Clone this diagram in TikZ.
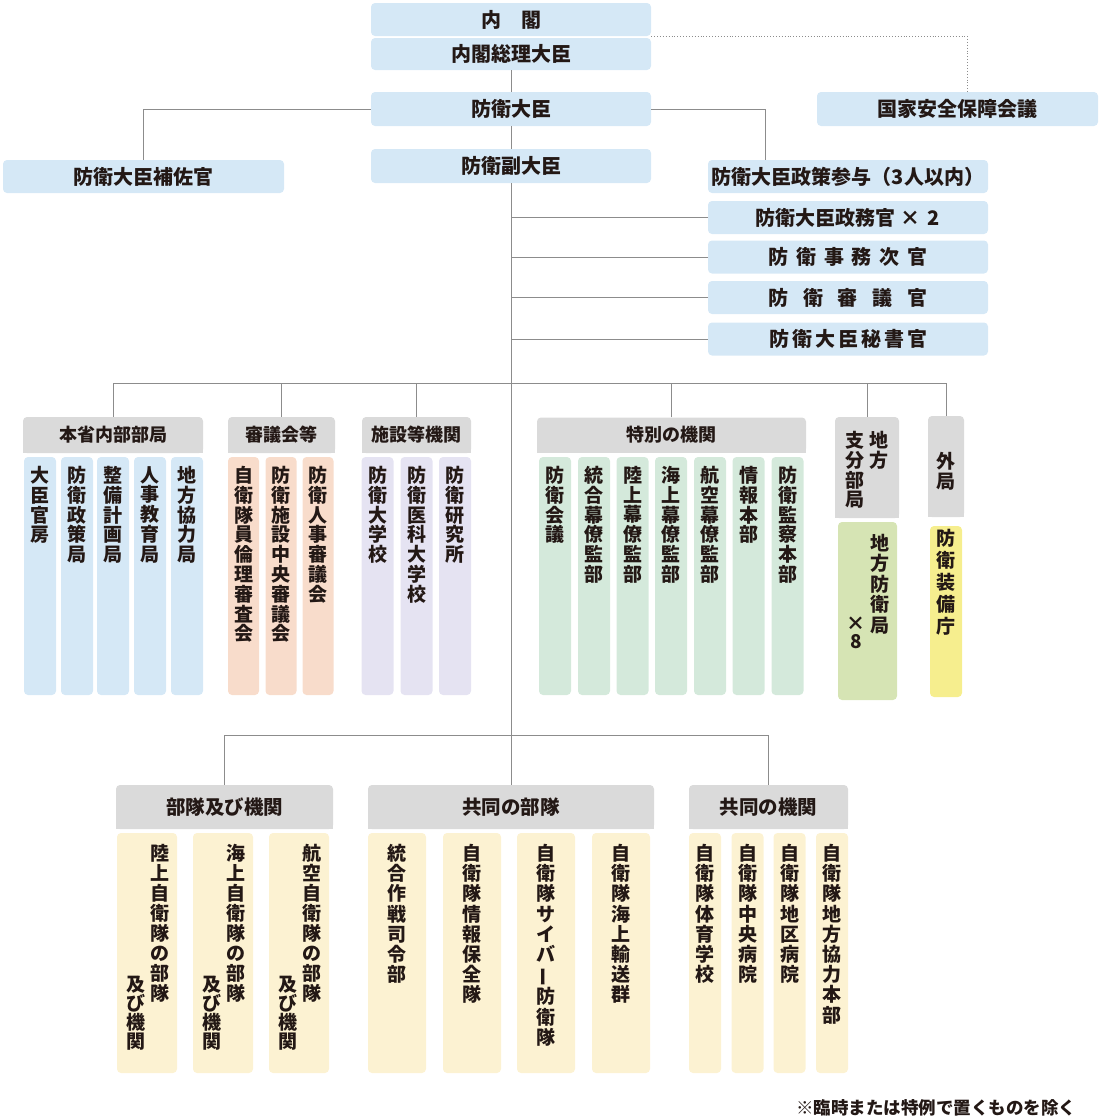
\documentclass[tikz,border=0pt]{standalone}
\usepackage{fontspec}
\newfontfamily\jp{Noto Sans CJK JP}
\definecolor{boxblue}{HTML}{D5E8F6}
\definecolor{headgray}{HTML}{DADADA}
\definecolor{boxpink}{HTML}{F8DCCB}
\definecolor{boxlilac}{HTML}{E5E3F2}
\definecolor{boxmint}{HTML}{D4E9DB}
\definecolor{boxlime}{HTML}{D6E4B4}
\definecolor{boxyellow}{HTML}{F6EE8E}
\definecolor{boxcream}{HTML}{FCF2D2}
\definecolor{ink}{HTML}{231815}
\definecolor{wire}{HTML}{8C8C8C}
\def\spread#1#2{\foreach \chr in {#2}{\makebox[#1]{\chr}}}
\def\chouon{\rotatebox[origin=c]{90}{ー}}
\tikzset{
  topbox/.style={fill=boxblue, rounded corners=4pt, inner sep=0pt, minimum width=280pt, minimum height=33pt, text=ink, font=\jp\bfseries\fontsize{20}{20}\selectfont},
  headbox/.style={fill=headgray, rounded corners=4pt, inner sep=0pt, text=ink, font=\jp\bfseries\fontsize{18}{18}\selectfont},
  colbox/.style={rounded corners=4pt, inner sep=0pt},
  tate/.style={anchor=north, inner sep=0pt, align=center, text=ink, font=\jp\bfseries\fontsize{19}{19.8}\selectfont},
  link/.style={draw=wire, line width=0.9pt},
}
\begin{document}
\begin{tikzpicture}[x=1pt, y=-1pt]
		%%%%% START %%%%%
		\useasboundingbox (0,0) rectangle (1100,1119);
		
		\node[topbox] (cab) at (511,19.5) {内　閣};
		\node[topbox, minimum height=32pt] (pm) at (511,54) {内閣総理大臣};
		\node[topbox, minimum height=34pt] (dm) at (511,109) {防衛大臣};
		\node[topbox, minimum height=34pt] (vm) at (511,166) {防衛副大臣};
		\node[topbox, minimum width=281pt, minimum height=34pt] (nsc) at (957.5,109) {国家安全保障会議};
		\node[topbox, minimum width=281pt] (aide) at (143.5,176.5) {防衛大臣補佐官};
		
		\node[topbox] (sanyo) at (848,176.5) {防衛大臣政策参与（3人以内）};
		\node[topbox] (seimu) at (848,217.5) {防衛大臣政務官\hspace{5pt}×\hspace{7pt}2};
		\node[topbox] (jimu) at (848,257) {\spread{27.7pt}{防,衛,事,務,次,官}};
		\node[topbox] (shingi) at (848,297.5) {\spread{34.6pt}{防,衛,審,議,官}};
		\node[topbox] (hisho) at (848,339) {\spread{23pt}{防,衛,大,臣,秘,書,官}};
		
		\draw[link, dotted] (cab.south east) -| ([xshift=10pt]nsc.north);
		\draw[link] (pm.south) -- (dm.north);
		\draw[link] (dm.south) -- (vm.north);
		\draw[link] (dm.west) -| (aide.north);
		\draw[link] (dm.east) -| ([xshift=-83pt]sanyo.north);
		\coordinate (hubA) at (511,383);
		\coordinate (hubB) at (511,735);
		\draw[link] (vm.south) -- (hubB);
		\foreach \b in {seimu,jimu,shingi,hisho}
			\draw[link] (vm.south |- \b.west) -- (\b.west);
		
		%%%%% MIDDLE %%%%%
		
		\node[headbox, minimum width=180pt, minimum height=36pt] (hq) at (113,435) {本省内部部局};
		\foreach \x/\txt [count=\i] in {40/大\\臣\\官\\房, 77/防\\衛\\政\\策\\局, 113/整\\備\\計\\画\\局, 150/人\\事\\教\\育\\局, 187/地\\方\\協\\力\\局}{
			\node[colbox, fill=boxblue, minimum width=32pt, minimum height=238pt] (hq\i) at (\x,576) {};
			\node[tate] (hq\i t) at (\x,466) {\txt};
		}
		
		\node[headbox, minimum width=107pt, minimum height=36pt] (cnc) at (281.5,435) {審議会等};
		\foreach \x/\txt [count=\i] in {243.5/自\\衛\\隊\\員\\倫\\理\\審\\査\\会, 281/防\\衛\\施\\設\\中\\央\\審\\議\\会, 318/防\\衛\\人\\事\\審\\議\\会}{
			\node[colbox, fill=boxpink, minimum width=31pt, minimum height=238pt] (cnc\i) at (\x,576) {};
			\node[tate] (cnc\i t) at (\x,466) {\txt};
		}
		
		\node[headbox, minimum width=109pt, minimum height=36pt] (fac) at (416.5,435) {施設等機関};
		\foreach \x/\txt [count=\i] in {377.5/防\\衛\\大\\学\\校, 416.5/防\\衛\\医\\科\\大\\学\\校, 455/防\\衛\\研\\究\\所}{
			\node[colbox, fill=boxlilac, minimum width=32pt, minimum height=238pt] (fac\i) at (\x,576) {};
			\node[tate] (fac\i t) at (\x,466) {\txt};
		}
		
		\node[headbox, minimum width=269pt, minimum height=35pt] (spc) at (671.5,435) {特別の機関};
		\foreach \x/\txt [count=\i] in {555/防\\衛\\会\\議, 594/統\\合\\幕\\僚\\監\\部, 632.5/陸\\上\\幕\\僚\\監\\部, 671/海\\上\\幕\\僚\\監\\部, 710/航\\空\\幕\\僚\\監\\部, 748.5/情\\報\\本\\部, 787.5/防\\衛\\監\\察\\本\\部}{
			\node[colbox, fill=boxmint, minimum width=32pt, minimum height=238pt] (spc\i) at (\x,576) {};
			\node[tate] (spc\i t) at (\x,466) {\txt};
		}
		
		\node[headbox, minimum width=64pt, minimum height=101pt] (reg) at (867,467.5) {};
		\node[tate] (reg1t) at (879,431) {地\\方};
		\node[tate] (reg2t) at (855,431) {支\\分\\部\\局};
		\node[colbox, fill=boxlime, minimum width=59pt, minimum height=178pt] (reg1) at (867.5,611) {};
		\node[tate, font=\jp\bfseries\fontsize{19}{20.5}\selectfont] (reg3t) at (880,534) {地\\方\\防\\衛\\局};
		\node[tate, font=\jp\bfseries\fontsize{19}{17.5}\selectfont] (reg4t) at (856,617) {×\\8};
		
		\node[headbox, minimum width=36pt, minimum height=101pt] (ext) at (946,466.5) {};
		\node[tate] (ext1t) at (946,452) {外\\局};
		\node[colbox, fill=boxyellow, minimum width=32pt, minimum height=171pt] (ext1) at (946,611.5) {};
		\node[tate, font=\jp\bfseries\fontsize{19}{22}\selectfont] (ext2t) at (946,529) {防\\衛\\装\\備\\庁};
		
		\draw[link] (hq.north) |- (ext.north |- hubA) -- (ext.north);
		\foreach \h in {cnc,fac,spc,reg}
			\draw[link] (\h.north) -- (\h.north |- hubA);
		
		%%%%% BOTTOM %%%%%
		
		\node[headbox, minimum width=217pt, minimum height=44pt, font=\jp\bfseries\fontsize{19.5}{19.5}\selectfont] (unit) at (224.5,807) {部隊及び機関};
		\foreach \x [count=\i] in {147,223,299}
			\node[colbox, fill=boxcream, minimum width=60pt, minimum height=240pt] (unit\i) at (\x,953) {};
		\node[tate, font=\jp\bfseries\fontsize{19}{20}\selectfont] (unit1a) at (160,844) {陸\\上\\自\\衛\\隊\\の\\部\\隊};
		\node[tate, font=\jp\bfseries\fontsize{19}{20}\selectfont] (unit2a) at (236,844) {海\\上\\自\\衛\\隊\\の\\部\\隊};
		\node[tate, font=\jp\bfseries\fontsize{19}{20}\selectfont] (unit3a) at (312,844) {航\\空\\自\\衛\\隊\\の\\部\\隊};
		\foreach \x [count=\i] in {136,212,288}
			\node[tate, font=\jp\bfseries\fontsize{19}{19}\selectfont] (unit\i b) at (\x,976) {及\\び\\機\\関};
		
		\node[headbox, minimum width=286pt, minimum height=44pt, font=\jp\bfseries\fontsize{19.5}{19.5}\selectfont] (jtu) at (511,807) {共同の部隊};
		\foreach \x/\txt [count=\i] in {397/統\\合\\作\\戦\\司\\令\\部, 472/自\\衛\\隊\\情\\報\\保\\全\\隊, 546/自\\衛\\隊\\サ\\イ\\バ\\\chouon\\防\\衛\\隊, 621/自\\衛\\隊\\海\\上\\輸\\送\\群}{
			\node[colbox, fill=boxcream, minimum width=58pt, minimum height=240pt] (jtu\i) at (\x,953) {};
			\node[tate, font=\jp\bfseries\fontsize{19}{20.2}\selectfont] (jtu\i t) at (\x,844) {\txt};
		}
		
		\node[headbox, minimum width=159pt, minimum height=44pt, font=\jp\bfseries\fontsize{19.5}{19.5}\selectfont] (jin) at (768.5,807) {共同の機関};
		\foreach \x/\txt [count=\i] in {705/自\\衛\\隊\\体\\育\\学\\校, 747.5/自\\衛\\隊\\中\\央\\病\\院, 789.5/自\\衛\\隊\\地\\区\\病\\院, 832/自\\衛\\隊\\地\\方\\協\\力\\本\\部}{
			\node[colbox, fill=boxcream, minimum width=32pt, minimum height=240pt] (jin\i) at (\x,953) {};
			\node[tate, font=\jp\bfseries\fontsize{19}{20.2}\selectfont] (jin\i t) at (\x,844) {\txt};
		}
		
		\draw[link] (unit.north) |- (jin.north |- hubB) -- (jin.north);
		\draw[link] (hubB) -- (jtu.north);
		
		\foreach \h in {hq,cnc,fac,spc,reg,ext,unit,jtu,jin}
			\fill[headgray] ([yshift=5pt]\h.south west) rectangle (\h.south east);
		
		\node[text=ink, font=\jp\bfseries\fontsize{17.5}{17.5}\selectfont] (note) at (936,1108) {※臨時または特例で置くものを除く};
		
		%%%%% END %%%%%
\end{tikzpicture}
\end{document}
